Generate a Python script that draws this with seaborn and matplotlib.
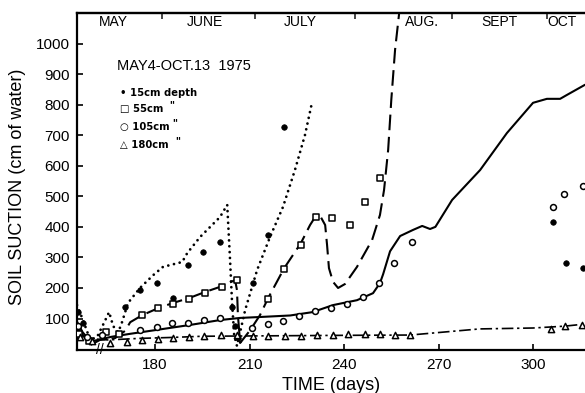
import matplotlib
matplotlib.use("Agg")
import matplotlib.pyplot as plt
import seaborn as sns

sns.set_style("ticks")
plt.rcParams['font.family'] = ['Liberation Sans', 'DejaVu Sans']

# ---- 15 cm depth: fitted curve (dotted) and measurements (filled circles)
day_15_curve = [155.2, 157.1, 159.4, 161.6, 163.5, 165.4, 166.7, 168.3, 169.5, 171.4,
                175.2, 179.4, 182.5, 188.6, 190.2, 194.3, 197.5, 200.6, 202.9, 203.8,
                204.4, 205.1, 206.0, 208.6, 212.4, 216.5, 220.6, 224.4, 227.6, 229.8]
suction_15_curve = [144, 95, 30, 40, 80, 121, 75, 55, 88, 151,
                    200, 242, 269, 285, 314, 367, 400, 432, 472, 292,
                    160, 46, 10, 128, 259, 367, 465, 586, 701, 806]
day_15_obs = [155.6, 157.0, 170.5, 175.2, 180.6, 185.7, 190.5, 195.2, 200.6, 204.4,
              205.3, 206.2, 211.1, 215.9, 221.0, 306.3, 310.5, 315.9]
suction_15_obs = [121, 85, 138, 193, 216, 167, 275, 318, 351, 138,
                  75, 35, 216, 373, 727, 416, 282, 265]

# ---- 55 cm depth: dashed curve and open squares
day_55_curve = [155.2, 157.5, 159.4, 162.5, 167.3, 170.5, 172.1, 175.9, 181.0, 185.7,
                190.8, 195.9, 201.3, 205.4, 206.0, 206.3, 207.0, 210.2, 213.3, 215.9,
                221.0, 226.3, 229.2, 230.8, 232.4, 234.0, 234.6, 235.2, 236.5, 238.1,
                240.3, 244.1, 248.9, 251.4, 252.7, 254.0, 255.0, 256.2, 257.5]
suction_55_curve = [70, 40, 13, 30, 36, 60, 88, 111, 134, 151,
                    167, 187, 206, 226, 193, 111, 20, 62, 111, 167,
                    265, 347, 406, 432, 436, 406, 341, 265, 220, 200,
                    213, 269, 357, 439, 521, 652, 816, 980, 1100]
day_55_obs = [155.8, 159.0, 164.5, 168.5, 175.9, 181.0, 185.7, 190.8, 195.9, 201.3,
              206.0, 215.9, 221.0, 226.3, 231.1, 236.2, 241.9, 246.7, 251.4]
suction_55_obs = [50, 25, 55, 50, 111, 134, 147, 164, 183, 203,
                  226, 164, 262, 341, 432, 429, 406, 481, 560]

# ---- 105 cm depth: solid curve and open circles
day_105_curve = [155.2, 157.0, 159.5, 162.0, 166.0, 172.1, 180.0, 191.1, 200.6, 207.0,
                 213.3, 222.9, 230.0, 236.5, 244.1, 249.2, 251.4, 252.4, 254.6, 257.8,
                 261.9, 264.8, 267.3, 269.0, 274.3, 283.2, 291.7, 300.0, 304.4, 308.6,
                 310.8, 316.5]
suction_105_curve = [90, 55, 25, 30, 40, 50, 62, 79, 95, 102,
                     105, 110, 121, 144, 160, 183, 216, 245, 320, 370,
                     390, 403, 393, 400, 488, 586, 707, 806, 819, 819,
                     832, 865]
day_105_obs = [155.4, 158.5, 163.0, 175.2, 180.6, 185.4, 190.5, 195.6, 200.6, 210.8,
               215.9, 220.6, 225.7, 230.8, 235.9, 241.0, 246.0, 251.1, 255.9, 261.6,
               306.3, 309.8, 315.9]
suction_105_obs = [75, 40, 45, 62, 72, 85, 85, 95, 102, 69,
                   82, 92, 108, 125, 134, 148, 170, 216, 282, 351,
                   465, 508, 534]

# ---- 180 cm depth: dash-dot curve and open triangles
day_180_curve = [155.2, 158.0, 162.0, 165.0, 175.0, 185.0, 195.0, 210.0, 240.0, 261.0,
                 272.0, 283.0, 300.0, 310.0, 316.5]
suction_180_curve = [55, 38, 32, 30, 35, 38, 42, 43, 45, 46,
                     56, 66, 69, 75, 82]
day_180_obs = [156.0, 160.0, 165.7, 171.1, 175.9, 181.0, 185.7, 190.8, 195.6, 201.0,
               206.0, 211.1, 215.9, 221.3, 226.3, 231.4, 236.5, 241.3, 246.7, 251.4,
               256.2, 261.0, 305.7, 310.2, 315.6]
suction_180_obs = [40, 25, 20, 23, 30, 33, 36, 39, 43, 46,
                   46, 43, 43, 43, 43, 46, 46, 49, 49, 49,
                   46, 46, 66, 75, 79]

# ---- axis annotations
x_ticks = [180, 210, 240, 270, 300]
y_ticks = [100, 200, 300, 400, 500, 600, 700, 800, 900, 1000]
months = ["MAY", "JUNE", "JULY", "AUG.", "SEPT", "OCT"]
month_centres = [166.7, 195.9, 226.0, 264.8, 289.2, 309.2]
month_bounds = [182.2, 211.7, 243.5, 274.3, 304.4]

fig = plt.figure(figsize=(5.85, 3.93), dpi=100)
ax = fig.add_axes([0.1316, 0.1094, 0.8684, 0.8576])

ink = "black"


def draw_curve(days, values, lw, dashes=None, capstyle="butt"):
    sns.lineplot(x=days, y=values, ax=ax, color=ink, sort=False,
                 estimator=None, lw=lw)
    line = ax.lines[-1]
    if dashes is not None:
        line.set_dashes(dashes)
    line.set_dash_capstyle(capstyle)
    line.set_solid_capstyle("round")
    line.set_solid_joinstyle("round")


# curves
draw_curve(day_15_curve, suction_15_curve, 2.0, dashes=(0.01, 2.1),
           capstyle="round")
draw_curve(day_55_curve, suction_55_curve, 1.5, dashes=(7.5, 3.2))
draw_curve(day_105_curve, suction_105_curve, 1.5)
draw_curve(day_180_curve, suction_180_curve, 1.2, dashes=(7, 2.2, 1.4, 2.2))

# measurements
sns.scatterplot(x=day_15_obs, y=suction_15_obs, ax=ax, marker="o", s=16,
                color=ink, edgecolor=ink, linewidth=0.5, zorder=4)
sns.scatterplot(x=day_55_obs, y=suction_55_obs, ax=ax, marker="s", s=18,
                color="white", edgecolor=ink, linewidth=1.1, zorder=4)
sns.scatterplot(x=day_105_obs, y=suction_105_obs, ax=ax, marker="o", s=18,
                color="white", edgecolor=ink, linewidth=1.1, zorder=4)
sns.scatterplot(x=day_180_obs, y=suction_180_obs, ax=ax, marker="^", s=20,
                color="white", edgecolor=ink, linewidth=1.1, zorder=4)

ax.set_xlim(155.2, 316.5)
ax.set_ylim(-3, 1100)
ax.set_xticks(x_ticks)
ax.set_xticklabels([str(t) for t in x_ticks])
ax.set_yticks(y_ticks)
ax.set_yticklabels([str(t) for t in y_ticks])
ax.tick_params(axis="x", direction="in", length=4, width=1.2, pad=6,
               labelsize=11, colors=ink)
ax.tick_params(axis="y", direction="in", length=4, width=1.2, pad=5,
               labelsize=11, colors=ink)

for side in ["left", "bottom", "top"]:
    ax.spines[side].set_linewidth(1.6)
    ax.spines[side].set_color(ink)
ax.spines["right"].set_visible(False)

ax.set_xlabel("TIME (days)", fontsize=13, color=ink)
ax.set_ylabel("SOIL SUCTION (cm of water)", fontsize=13, color=ink)
ax.xaxis.set_label_coords(0.5, -0.08)
ax.yaxis.set_label_coords(-0.1, 0.485)

# month boundaries along the top edge
top = ax.secondary_xaxis("top")
top.set_xticks(month_bounds)
top.set_xticklabels([""] * len(month_bounds))
top.tick_params(direction="in", length=4, width=1.2)
top.spines["top"].set_linewidth(1.6)
for name, centre in zip(months, month_centres):
    ax.text(centre, 1069, name, ha="center", va="center", fontsize=10,
            color=ink)

# axis break mark
ax.text(162.5, -3, "//", ha="center", va="center", fontsize=10,
        color=ink, clip_on=False, zorder=5)

# key
ax.text(167.9, 925, "MAY4-OCT.13  1975", ha="left", va="center",
        fontsize=10.5, color=ink)
key_rows = [("\u2022 15cm depth", 839, ""),
            ("\u25a1 55cm", 787, "\""),
            ("\u25cb 105cm", 728, "\""),
            ("\u25b3 180cm", 669, "\"")]
ditto_x = [184.5, 185.5, 186.5]
for i, (label, yv, ditto) in enumerate(key_rows):
    ax.text(168.9, yv, label, ha="left", va="center", fontsize=7.2,
            fontweight="bold", color=ink,
            family=["DejaVu Sans"])
    if ditto:
        ax.text(ditto_x[i - 1], yv + 10, ditto, ha="left", va="center",
                fontsize=7.5, fontweight="bold", color=ink)

fig.savefig("out.png", dpi=100)
